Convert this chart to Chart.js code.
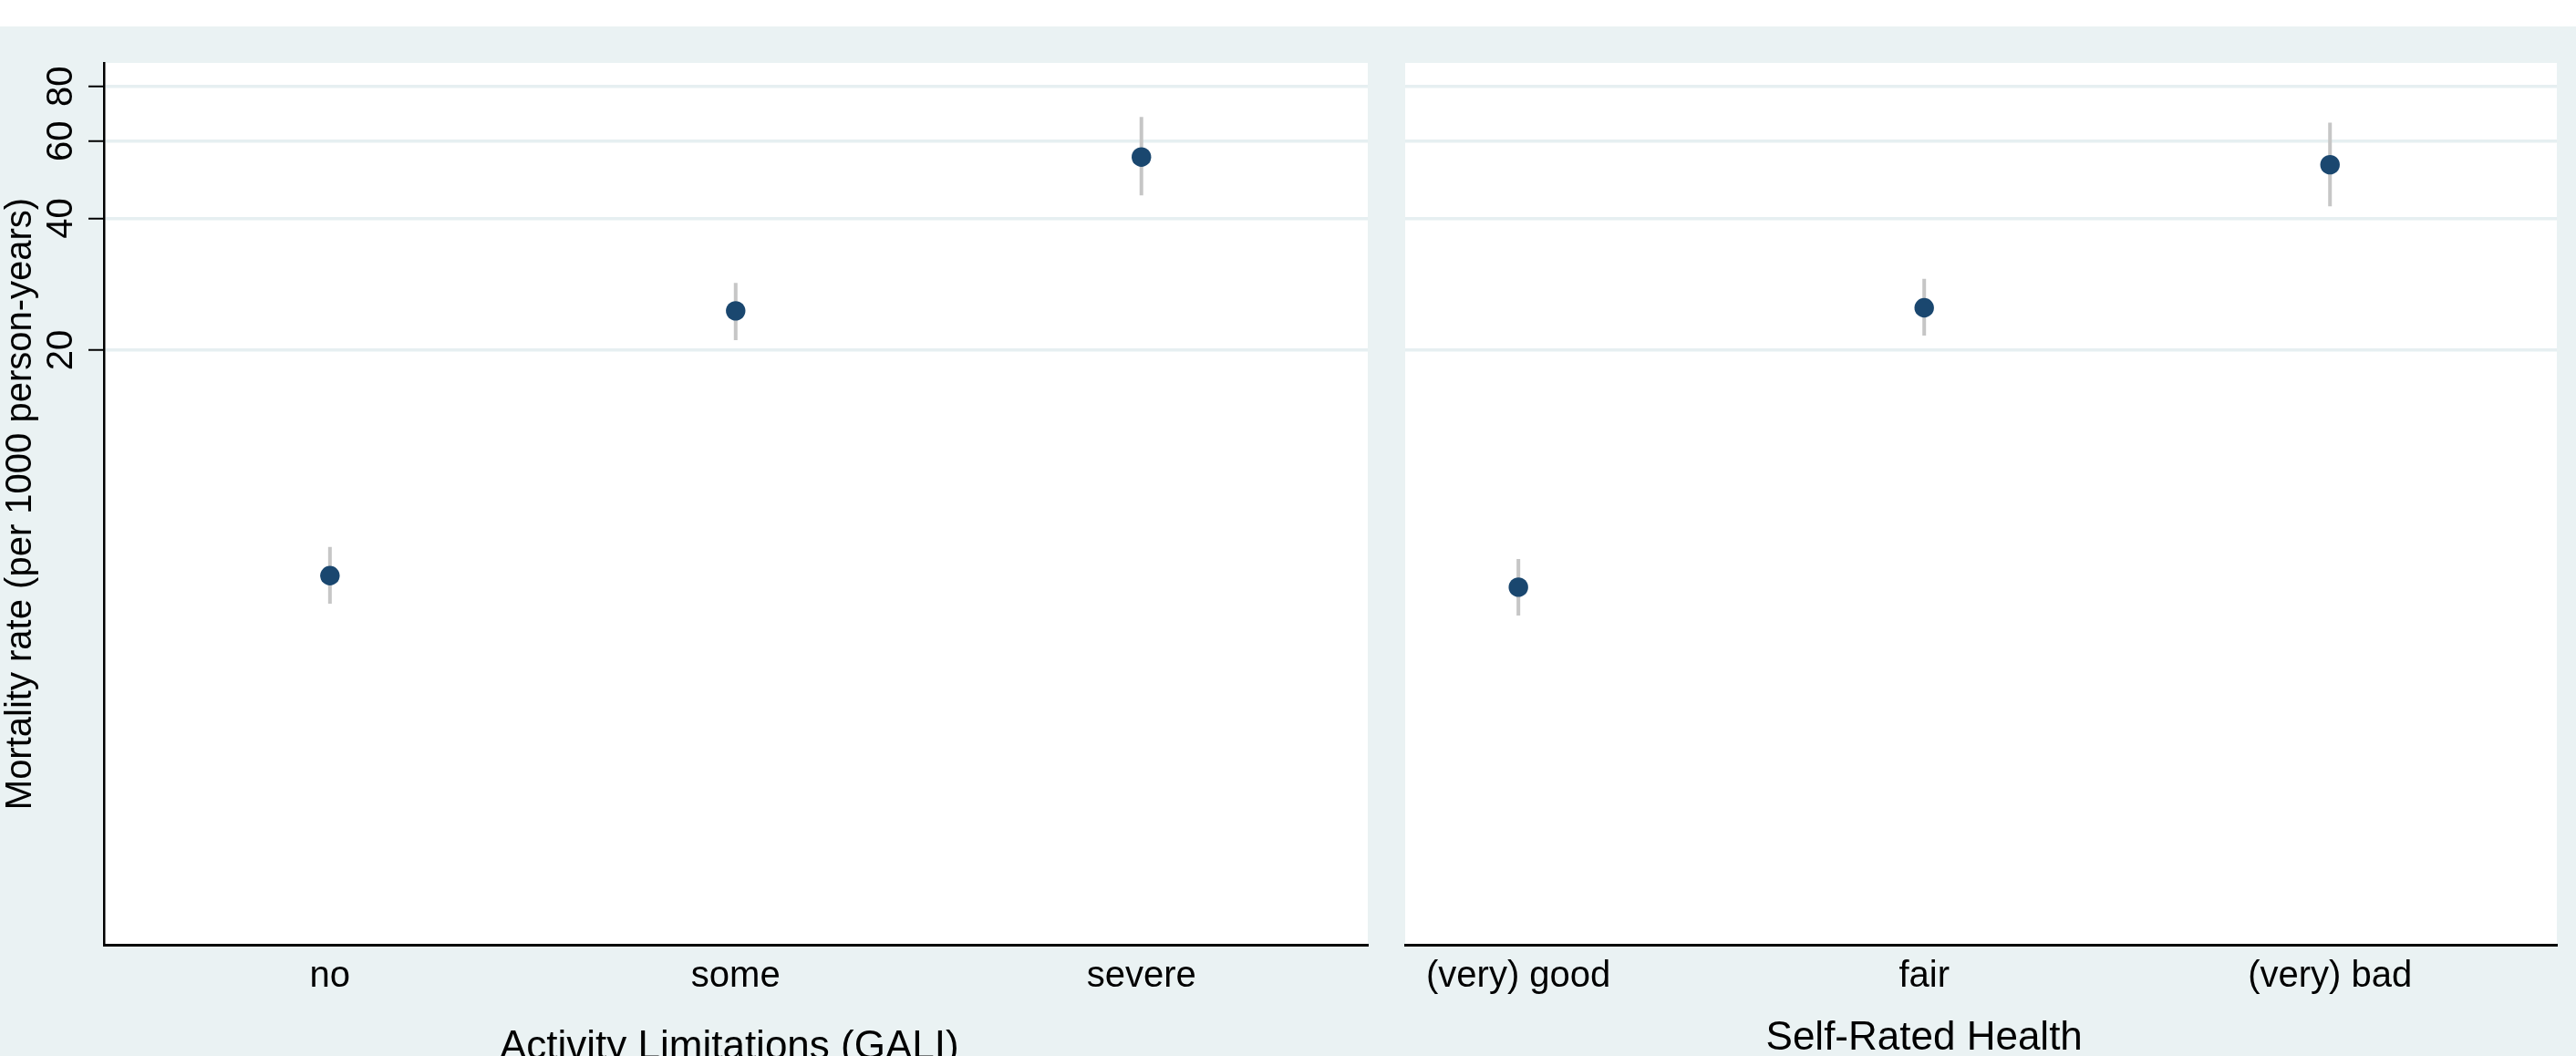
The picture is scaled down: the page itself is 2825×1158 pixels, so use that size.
<!DOCTYPE html>
<html>
<head>
<meta charset="utf-8">
<script src="https://cdn.jsdelivr.net/npm/chart.js@4.4.1/dist/chart.umd.min.js"></script>
<style>
html, body { margin: 0; padding: 0; width: 2825px; height: 1158px; overflow: hidden; background: #eaf2f3; }
#topband { position: absolute; left: 0; top: 0; width: 2825px; height: 29px; background: #fff; }
.panel { position: absolute; top: 0; height: 1180px; }
#left  { left: 0;      width: 1520px; }
#right { left: 1521px; width: 1304px; }
</style>
</head>
<body>
<div id="topband"></div>
<div class="panel" id="left"><canvas id="cv-gali"></canvas></div>
<div class="panel" id="right"><canvas id="cv-srh"></canvas></div>
<script>
"use strict";

// y axis (log scale)
const Y_TICKS = [20, 40, 60, 80];
const Y_MIN   = 0.88;
const Y_MAX   = 90.5;

// Activity Limitations (GALI)
const GALI_LABELS = ['no', 'some', 'severe'];
const GALI_RATE   = [6.12, 24.6, 55.2];
const GALI_LO     = [5.28, 21.1, 45.1];
const GALI_HI     = [7.12, 28.5, 68.1];

// Self-Rated Health
const SRH_LABELS = ['(very) good', 'fair', '(very) bad'];
const SRH_RATE   = [5.76, 25.0, 53.0];
const SRH_LO     = [4.96, 21.6, 42.6];
const SRH_HI     = [6.68, 29.1, 66.1];

const FONT   = '"Liberation Sans", Arial, Helvetica, sans-serif';
const NAVY   = '#1a476f';
const CIGREY = '#c6c6c6';
const GRID   = '#e6eff1';

Chart.defaults.font.family = FONT;
Chart.defaults.color = '#000';

// white plot region
const plotBg = {
    id: 'plotBg',
    beforeDraw(chart) {
        const a = chart.chartArea, ctx = chart.ctx;
        ctx.save();
        ctx.fillStyle = '#fff';
        ctx.fillRect(a.left, a.top, a.right - a.left, a.bottom - a.top);
        ctx.restore();
    }
};

// x axis title, placed under the middle category like the original
const xTitle = {
    id: 'xTitle',
    afterDraw(chart, args, opts) {
        const ctx = chart.ctx;
        const x = chart.scales.x.getPixelForValue(2) + opts.dx;
        ctx.save();
        ctx.font = '44px ' + FONT;
        ctx.fillStyle = '#000';
        ctx.textAlign = 'center';
        ctx.textBaseline = 'alphabetic';
        ctx.fillText(opts.text, x, opts.baseline);
        ctx.restore();
    }
};

function _ciData(lo, hi) {
    const out = [];
    lo.forEach(function(v, i) {
        out.push({ x: i + 1, y: v });
        out.push({ x: i + 1, y: hi[i] });
        out.push({ x: i + 1, y: null });
    });
    return out;
}

function _yTicks(scale) {
    scale.ticks = Y_TICKS.map(function(v) { return { value: v }; });
}

function makePanel(id, cfg) {
    const yAxis = cfg.showY ? {
        type: 'logarithmic', min: Y_MIN, max: Y_MAX,
        afterBuildTicks: _yTicks,
        ticks: {
            callback: function(v) { return String(v); },
            font: { size: 40 }, color: '#000', padding: 7,
            minRotation: 90, maxRotation: 90, crossAlign: 'center', autoSkip: false
        },
        grid: { color: GRID, lineWidth: 3.5, drawTicks: true, tickLength: 17, tickColor: '#000', tickWidth: 2 },
        border: { display: true, color: '#000', width: 2.5 },
        title: {
            display: true, text: 'Mortality rate (per 1000 person-years)',
            font: { size: 40, lineHeight: 1.15 }, padding: 0, color: '#000'
        },
        afterFit: function(s) { s.width = cfg.yWidth; }
    } : {
        type: 'logarithmic', min: Y_MIN, max: Y_MAX,
        afterBuildTicks: _yTicks,
        ticks: { display: false },
        grid: { color: GRID, lineWidth: 3.5, drawTicks: false },
        border: { display: false },
        afterFit: function(s) { s.width = cfg.yWidth; }
    };

    return new Chart(document.getElementById(id), {
        type: 'scatter',
        data: {
            datasets: [
                {
                    label: 'rate',
                    data: cfg.rate.map(function(v, i) { return { x: i + 1, y: v }; }),
                    pointRadius: 10.7,
                    pointBackgroundColor: NAVY,
                    pointBorderWidth: 0,
                    order: 1
                },
                {
                    label: '95% CI',
                    data: _ciData(cfg.lo, cfg.hi),
                    showLine: true,
                    spanGaps: false,
                    borderColor: CIGREY,
                    borderWidth: 4,
                    pointRadius: 0,
                    order: 2
                }
            ]
        },
        options: {
            responsive: true,
            maintainAspectRatio: false,
            animation: false,
            events: [],
            layout: { padding: { top: 69, right: cfg.padRight, left: 0, bottom: 0 } },
            plugins: {
                legend: { display: false },
                tooltip: { enabled: false },
                xTitle: { text: cfg.title, dx: cfg.titleDx, baseline: cfg.titleBaseline }
            },
            scales: {
                x: {
                    type: 'linear', min: cfg.xMin, max: cfg.xMax,
                    afterBuildTicks: function(s) {
                        s.ticks = cfg.labels.map(function(l, i) { return { value: i + 1 }; });
                    },
                    ticks: {
                        callback: function(v, i) { return cfg.labels[i]; },
                        font: { size: 40 }, color: '#000', padding: 3,
                        autoSkip: false, maxRotation: 0
                    },
                    grid: { display: false },
                    border: { display: true, color: '#000', width: 3 },
                    afterFit: function(s) { s.height = 144; }
                },
                y: yAxis
            }
        },
        plugins: [plotBg, xTitle]
    });
}

makePanel('cv-gali', {
    labels: GALI_LABELS, rate: GALI_RATE, lo: GALI_LO, hi: GALI_HI,
    xMin: 0.443, xMax: 3.558, showY: true, yWidth: 114, padRight: 20,
    title: 'Activity Limitations (GALI)', titleDx: -7, titleBaseline: 1161
});

makePanel('cv-srh', {
    labels: SRH_LABELS, rate: SRH_RATE, lo: SRH_LO, hi: SRH_HI,
    xMin: 0.721, xMax: 3.559, showY: false, yWidth: 20, padRight: 21,
    title: 'Self-Rated Health', titleDx: 0, titleBaseline: 1151
});
</script>
</body>
</html>
